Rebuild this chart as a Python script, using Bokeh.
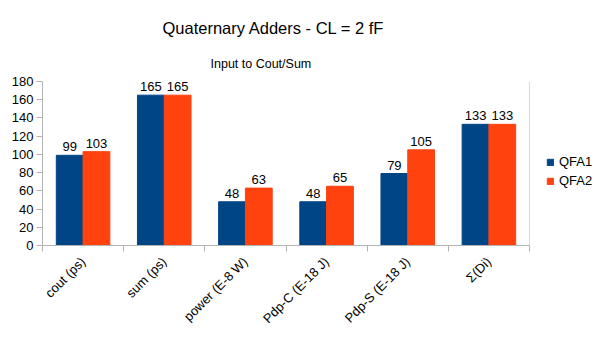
import math
from bokeh.plotting import figure
from bokeh.layouts import row, column
from bokeh.models import (Range1d, FixedTicker, LinearAxis, Legend, LegendItem,
                          Title, ColumnDataSource, Span, Spacer)
from bokeh.core.properties import value
from bokeh.embed import file_html
from bokeh.resources import INLINE

# ---- data ----
categories = ["cout (ps)", "sum (ps)", "power (E-8 W)", "Pdp-C (E-18 J)",
              "Pdp-S (E-18 J)", "Σ(Di)"]
qfa1 = [99, 165, 48, 48, 79, 133]
qfa2 = [103, 165, 63, 65, 105, 133]
series_names = ["QFA1", "QFA2"]
y_ticks = [0, 20, 40, 60, 80, 100, 120, 140, 160, 180]

FONT = "Liberation Sans"
GRAY = "#b3b3b3"
BLUE = "#004586"
ORANGE = "#ff420e"

n = len(categories)
bw = 0.33
x1 = [i + 0.5 - bw / 2 for i in range(n)]
x2 = [i + 0.5 + bw / 2 for i in range(n)]

src = ColumnDataSource(dict(x1=x1, x2=x2, q1=qfa1, q2=qfa2,
                            l1=[str(v) for v in qfa1], l2=[str(v) for v in qfa2]))

p = figure(frame_width=487, frame_height=164, x_range=Range1d(0, n),
           y_range=Range1d(0, 180),
           output_backend="svg", toolbar_location=None, x_axis_type=None,
           y_axis_type=None,
           min_border_left=0, min_border_right=0, min_border_top=0,
           min_border_bottom=0)
p.outline_line_color = None
p.background_fill_color = "white"
p.border_fill_color = "white"

# y axis
yax = LinearAxis(ticker=FixedTicker(ticks=y_ticks, minor_ticks=[]))
yax.axis_line_color = GRAY
yax.major_tick_line_color = GRAY
yax.major_tick_out = 6
yax.major_tick_in = 0
yax.minor_tick_line_color = None
yax.major_label_text_font = FONT
yax.major_label_text_font_size = "13px"
yax.major_label_text_color = "black"
yax.major_label_standoff = 3
p.add_layout(yax, "left")

# x axis
xax = LinearAxis(ticker=FixedTicker(ticks=[i + 0.5 for i in range(n)],
                                    minor_ticks=list(range(n + 1))))
xax.major_label_overrides = {i + 0.5: c for i, c in enumerate(categories)}
xax.major_label_orientation = math.pi / 4
xax.axis_line_color = GRAY
xax.major_tick_line_color = None
xax.minor_tick_line_color = GRAY
xax.minor_tick_out = 6
xax.minor_tick_in = 0
xax.major_label_text_font = FONT
xax.major_label_text_font_size = "13px"
xax.major_label_text_color = "black"
xax.major_label_standoff = 8
p.add_layout(xax, "below")

p.xgrid.visible = False
p.ygrid.ticker = FixedTicker(ticks=y_ticks)
p.ygrid.grid_line_color = GRAY

p.add_layout(Span(location=n, dimension="height", line_color=GRAY, line_width=1))

r1 = p.vbar(x="x1", top="q1", width=bw, source=src, fill_color=BLUE, line_color=BLUE)
r2 = p.vbar(x="x2", top="q2", width=bw, source=src, fill_color=ORANGE, line_color=ORANGE)

for xc, tc in (("x1", "l1"), ("x2", "l2")):
    yc = "q1" if tc == "l1" else "q2"
    p.text(x=xc, y=yc, text=tc, source=src, text_align="center",
           text_baseline="bottom", y_offset=-4,
           text_font=value(FONT), text_font_size="13px", text_color="black")

legend = Legend(items=[LegendItem(label=series_names[0], renderers=[r1]),
                       LegendItem(label=series_names[1], renderers=[r2])],
                location=(17, 57))
legend.border_line_color = None
legend.background_fill_alpha = 0
legend.glyph_width = 8
legend.glyph_height = 8
legend.label_text_font = FONT
legend.label_text_font_size = "13px"
legend.label_text_color = "black"
legend.label_standoff = 5
legend.label_height = 13
legend.spacing = 4
legend.padding = 0
legend.margin = 9
p.add_layout(legend, "right")

p.add_layout(Title(text="Input to Cout/Sum", text_font=FONT, text_font_size="12.5px",
                   text_font_style="normal", text_color="black", align="left",
                   offset=168, standoff=21), "above")
p.add_layout(Title(text="Quaternary Adders - CL = 2 fF", text_font=FONT,
                   text_font_size="16.5px", text_font_style="normal",
                   text_color="black", align="left", offset=120, standoff=16),
             "above")

layout = column(Spacer(height=8), row(Spacer(width=8), p))
open("out.html", "w").write(file_html(layout, INLINE))
